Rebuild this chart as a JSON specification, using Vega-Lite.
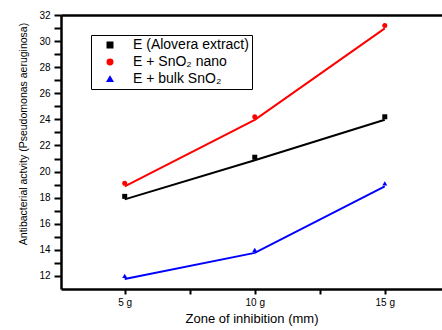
{
  "$schema": "https://vega.github.io/schema/vega-lite/v6.json",
  "width": 381,
  "height": 274,
  "autosize": {"type": "none"},
  "padding": {"left": 61, "top": 15, "right": 0, "bottom": 41},
  "background": "white",
  "config": {"view": {"stroke": null}, "font": "Liberation Sans"},
  "data": {
    "values": [
      {"series": "E (Alovera extract)", "dose": 5, "value": 18.1},
      {"series": "E (Alovera extract)", "dose": 10, "value": 21.1},
      {"series": "E (Alovera extract)", "dose": 15, "value": 24.2},
      {"series": "E + SnO₂ nano", "dose": 5, "value": 19.1},
      {"series": "E + SnO₂ nano", "dose": 10, "value": 24.2},
      {"series": "E + SnO₂ nano", "dose": 15, "value": 31.2},
      {"series": "E + bulk SnO₂", "dose": 5, "value": 12.0},
      {"series": "E + bulk SnO₂", "dose": 10, "value": 14.0},
      {"series": "E + bulk SnO₂", "dose": 15, "value": 19.1}
    ]
  },
  "encoding": {
    "y": {
      "field": "value",
      "type": "quantitative",
      "scale": {"domain": [11, 32], "nice": false, "zero": false},
      "axis": {
        "values": [12, 13, 14, 15, 16, 17, 18, 19, 20, 21, 22, 23, 24, 25, 26, 27, 28, 29, 30, 31, 32],
        "labelExpr": "datum.value % 2 === 0 ? datum.label : ''",
        "title": "Antibacterial actvity (Pseudomonas aeruginosa)",
        "grid": false,
        "domainColor": "black",
        "domainWidth": 2.5,
        "tickColor": "black",
        "tickWidth": 2,
        "tickSize": 7,
        "labelFontSize": 10,
        "labelColor": "black",
        "labelPadding": 4,
        "labelOverlap": false,
        "labelFlush": false,
        "titleFont": "Liberation Sans",
        "titleFontSize": 10.5,
        "titleFontWeight": "normal",
        "titleColor": "black",
        "titleX": -35,
        "titleY": 118.5,
        "titleAngle": -90,
        "titleAlign": "center",
        "titleBaseline": "alphabetic",
        "encode": {"ticks": {"update": {"x2": {"value": {"expr": "datum.value % 2 === 0 ? -7 : -3"}}}}}
      }
    },
    "color": {
      "field": "series",
      "type": "nominal",
      "scale": {
        "domain": ["E (Alovera extract)", "E + SnO₂ nano", "E + bulk SnO₂"],
        "range": ["#000000", "#ff0000", "#0000ff"]
      },
      "legend": {
        "orient": "none",
        "legendX": 30,
        "legendY": 20,
        "title": null,
        "strokeColor": "black",
        "padding": 3,
        "symbolSize": 30,
        "symbolOffset": 9,
        "labelOffset": 16,
        "rowPadding": 3,
        "labelFontSize": 14,
        "labelColor": "black"
      }
    }
  },
  "layer": [
    {
      "mark": {"type": "line", "strokeWidth": 2, "yOffset": 3},
      "encoding": {
        "x": {
          "field": "dose",
          "type": "quantitative",
          "scale": {"domain": [2.55, 17.2], "nice": false, "zero": false},
          "axis": {
            "orient": "bottom",
            "values": [5, 7.5, 10, 12.5, 15],
            "labelExpr": "datum.value % 5 === 0 ? datum.value + ' g' : ''",
            "title": "Zone of inhibition (mm)",
            "grid": false,
            "domainColor": "black",
            "domainWidth": 2.5,
            "tickColor": "black",
            "tickWidth": 2,
            "tickSize": 5,
            "labelFontSize": 10,
            "labelColor": "black",
            "labelPadding": 3,
            "labelFlush": false,
            "labelOverlap": false,
            "titleFontSize": 13,
            "titleFontWeight": "normal",
            "titleColor": "black",
            "titleY": 33,
            "titleBaseline": "alphabetic",
            "encode": {"ticks": {"update": {"y2": {"value": {"expr": "datum.value % 5 === 0 ? 5 : 2.5"}}}}}
          }
        }
      }
    },
    {
      "mark": {"type": "point", "filled": true, "opacity": 1, "size": 25},
      "encoding": {
        "x": {
          "field": "dose",
          "type": "quantitative",
          "scale": {"domain": [2.55, 17.2], "nice": false, "zero": false},
          "axis": {
            "orient": "top",
            "labels": false,
            "ticks": false,
            "title": null,
            "grid": false,
            "domainColor": "black",
            "domainWidth": 2.5
          }
        },
        "shape": {
          "field": "series",
          "type": "nominal",
          "scale": {
            "domain": ["E (Alovera extract)", "E + SnO₂ nano", "E + bulk SnO₂"],
            "range": ["square", "circle", "triangle-up"]
          },
          "legend": null
        }
      }
    }
  ],
  "resolve": {"axis": {"x": "independent"}}
}
